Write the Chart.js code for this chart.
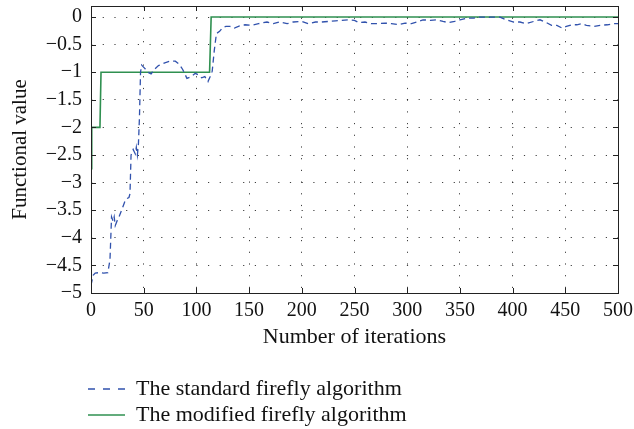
<!DOCTYPE html>
<html lang="en">
<head>
<meta charset="UTF-8">
<title>Firefly algorithm convergence</title>
<style>
  html, body { margin: 0; padding: 0; background: #fff; }
  #wrap { width: 634px; height: 429px; }
</style>
</head>
<body>
<div id="wrap"><canvas id="chart"></canvas></div>
<script src="https://cdn.jsdelivr.net/npm/chart.js@4/dist/chart.umd.min.js"></script>
<script>
// standard firefly algorithm (dashed blue)
const stdIter = [0, 2, 4, 8, 12, 16, 18, 19.5, 21, 22, 23, 25, 26, 29, 33, 36, 37, 38, 40, 42, 43, 44, 45, 46, 47, 48,
  51, 54, 57, 60, 64, 70, 75, 80, 84, 87, 91, 95, 99, 102, 105, 108, 111, 113, 115, 117, 119, 122, 125, 128, 132, 136,
  141, 146, 152, 159, 167, 173, 179, 186, 192, 200, 206, 213, 219, 225, 232, 238, 244, 250, 254, 260, 266, 273, 279,
  285, 292, 298, 304, 309, 315, 322, 328, 334, 339, 345, 350, 357, 363, 369, 375, 382, 388, 394, 401, 407, 413, 420,
  426, 432, 437, 442, 447, 451, 456, 461, 466, 470, 477, 483, 490, 496, 500];
const stdValue = [-4.86, -4.68, -4.64, -4.63, -4.64, -4.63, -4.4, -3.62, -3.7, -3.62, -3.78, -3.68, -3.65, -3.5, -3.3, -3.27, -3.2, -2.5, -2.4, -2.48, -2.36, -2.5, -2.3, -1.8, -1.0, -0.87,
  -0.93, -1.0, -1.03, -0.95, -0.88, -0.83, -0.8, -0.8, -0.86, -0.95, -1.11, -1.08, -1.02, -1.05, -1.1, -1.08, -1.17, -1.08, -0.98, -0.6, -0.3, -0.26, -0.19, -0.17, -0.17, -0.2,
  -0.16, -0.14, -0.15, -0.12, -0.09, -0.12, -0.09, -0.12, -0.09, -0.08, -0.12, -0.09, -0.09, -0.08, -0.07, -0.06, -0.05, -0.06, -0.1, -0.09, -0.12, -0.12, -0.11,
  -0.12, -0.14, -0.11, -0.12, -0.09, -0.05, -0.06, -0.05, -0.08, -0.1, -0.08, -0.05, -0.02, -0.02, 0, 0, 0, 0, -0.05, -0.09, -0.09, -0.12, -0.08,
  -0.05, -0.1, -0.15, -0.15, -0.2, -0.17, -0.14, -0.14, -0.12, -0.15, -0.17, -0.15, -0.14, -0.12, -0.12];

// modified firefly algorithm (solid green)
const modIter = [0, 0.7, 8.5, 9.5, 112.5, 114, 500];
const modValue = [-2.75, -2, -2, -1, -1, 0, 0];

const xTicks = [0, 50, 100, 150, 200, 250, 300, 350, 400, 450, 500];
const yTicks = [-5, -4.5, -4, -3.5, -3, -2.5, -2, -1.5, -1, -0.5, 0];
const yTop = 0.2;

const toPoints = (xs, ys) => xs.map((v, i) => ({x: v, y: ys[i]}));

const serif = "'Liberation Serif', 'DejaVu Serif', serif";
const legendPad = 4;

// matlab style box with inward ticks
const boxTicks = {
  id: 'boxTicks',
  afterLayout(chart) {
    // legend starts a bit left of the axes box and sits a bit lower
    const lg = chart.legend;
    lg.left = chart.chartArea.left - 3 - legendPad;
    lg.top += 7;
    lg.bottom += 7;
  },
  afterDraw(chart) {
    const {ctx, chartArea: a, scales: {x, y}} = chart;
    ctx.save();
    ctx.strokeStyle = '#222';
    ctx.lineWidth = 1;
    ctx.beginPath();
    xTicks.forEach(v => {
      const px = Math.round(x.getPixelForValue(v)) + 0.5;
      ctx.moveTo(px, a.bottom); ctx.lineTo(px, a.bottom - 5);
      ctx.moveTo(px, a.top); ctx.lineTo(px, a.top + 5);
    });
    yTicks.forEach(v => {
      const py = Math.round(y.getPixelForValue(v)) + 0.5;
      ctx.moveTo(a.left, py); ctx.lineTo(a.left + 5, py);
      ctx.moveTo(a.right, py); ctx.lineTo(a.right - 5, py);
    });
    ctx.stroke();
    ctx.strokeRect(Math.round(a.left) + 0.5, Math.round(a.top) + 0.5,
      Math.round(a.right - a.left), Math.round(a.bottom - a.top));
    ctx.restore();
  }
};

new Chart(document.getElementById('chart'), {
  type: 'line',
  data: {
    datasets: [{
      label: 'The standard firefly algorithm',
      data: toPoints(stdIter, stdValue),
      borderColor: '#3152ad',
      borderWidth: 1.3,
      borderDash: [6, 4],
      pointRadius: 0,
      tension: 0
    }, {
      label: 'The modified firefly algorithm',
      data: toPoints(modIter, modValue),
      borderColor: '#2f9050',
      borderWidth: 1.6,
      pointRadius: 0,
      tension: 0
    }]
  },
  options: {
    responsive: true,
    maintainAspectRatio: false,
    animation: false,
    layout: { padding: { top: 6, right: 16, bottom: 0, left: 0 } },
    plugins: {
      tooltip: { enabled: false },
      legend: {
        position: 'bottom',
        align: 'start',
        fullSize: false,
        labels: {
          usePointStyle: true,
          pointStyle: 'line',
          pointStyleWidth: 37,
          padding: legendPad,
          color: '#111',
          font: { family: serif, size: 22 },
          generateLabels: chart => Chart.defaults.plugins.legend.labels.generateLabels(chart).map(item => {
            item.lineDash = chart.data.datasets[item.datasetIndex].borderDash ? [7, 8] : [];
            return item;
          })
        }
      }
    },
    scales: {
      x: {
        type: 'linear',
        min: 0,
        max: 500,
        afterBuildTicks: s => { s.ticks = xTicks.map(v => ({value: v})); },
        afterFit: s => { s.height = 74; s.paddingLeft = 0; s.paddingRight = 0; },
        ticks: { color: '#111', padding: 6, autoSkip: false, maxRotation: 0, font: { family: serif, size: 20 } },
        grid: { color: 'rgba(0,0,0,0.75)', drawTicks: false },
        border: { display: false, dash: [1.2, 10.5] },
        title: {
          display: true,
          text: 'Number of iterations',
          color: '#111',
          font: { family: serif, size: 22 },
          padding: { top: 0, bottom: 17 }
        }
      },
      y: {
        min: -5,
        max: yTop,
        afterBuildTicks: s => { s.ticks = yTicks.concat(yTop).map(v => ({value: v})); },
        afterFit: s => { s.width = 91; s.paddingTop = 0; s.paddingBottom = 0; },
        ticks: {
          color: '#111',
          padding: 9,
          autoSkip: false,
          font: { family: serif, size: 20 },
          callback: v => yTicks.includes(v) ? String(v).replace('-', '\u2212') : null
        },
        grid: { color: 'rgba(0,0,0,0.75)', drawTicks: false },
        border: { display: false, dash: [1.2, 10.5] },
        title: {
          display: true,
          text: 'Functional value',
          color: '#111',
          font: { family: serif, size: 21 },
          padding: { top: 8, bottom: 0 }
        }
      }
    }
  },
  plugins: [boxTicks]
});
</script>
</body>
</html>
